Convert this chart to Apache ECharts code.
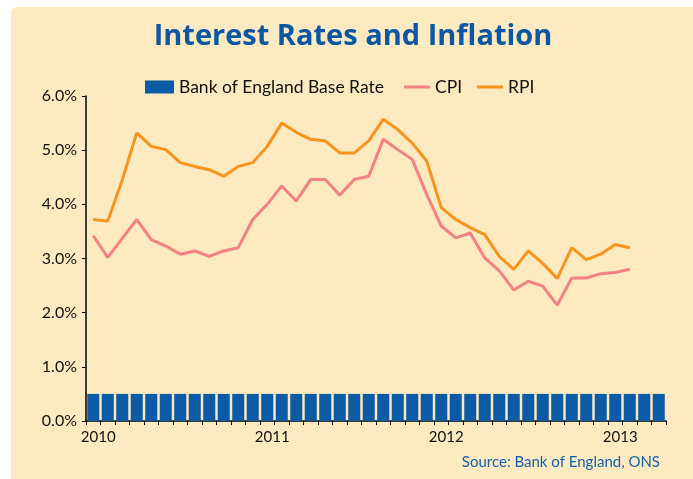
<!DOCTYPE html>
<html>
<head>
<meta charset="utf-8">
<script src="https://cdn.jsdelivr.net/npm/echarts@6/dist/echarts.min.js"></script>
<style>
html,body{margin:0;padding:0;background:#fff;}
#chart{width:693px;height:479px;}
</style>
</head>
<body>
<div id="chart"></div>
<script>
// Monthly categories Jan 2010 .. Apr 2013
var months = [
  '2010-01','2010-02','2010-03','2010-04','2010-05','2010-06','2010-07','2010-08','2010-09','2010-10','2010-11','2010-12',
  '2011-01','2011-02','2011-03','2011-04','2011-05','2011-06','2011-07','2011-08','2011-09','2011-10','2011-11','2011-12',
  '2012-01','2012-02','2012-03','2012-04','2012-05','2012-06','2012-07','2012-08','2012-09','2012-10','2012-11','2012-12',
  '2013-01','2013-02','2013-03','2013-04'
];
var baseRate = [
  0.5,0.5,0.5,0.5,0.5,0.5,0.5,0.5,0.5,0.5,0.5,0.5,
  0.5,0.5,0.5,0.5,0.5,0.5,0.5,0.5,0.5,0.5,0.5,0.5,
  0.5,0.5,0.5,0.5,0.5,0.5,0.5,0.5,0.5,0.5,0.5,0.5,
  0.5,0.5,0.5,0.5
];
var cpi = [
  3.42,3.02,3.37,3.72,3.35,3.23,3.08,3.14,3.04,3.14,3.20,3.72,
  4.00,4.34,4.06,4.46,4.46,4.17,4.46,4.52,5.20,5.01,4.83,4.18,
  3.60,3.38,3.47,3.01,2.77,2.42,2.58,2.49,2.14,2.64,2.64,2.72,
  2.74,2.80
];
var rpi = [
  3.72,3.69,4.45,5.32,5.07,5.01,4.77,4.70,4.64,4.52,4.70,4.77,
  5.07,5.50,5.33,5.20,5.17,4.95,4.95,5.17,5.57,5.38,5.13,4.80,
  3.94,3.72,3.57,3.44,3.04,2.80,3.14,2.91,2.63,3.20,2.98,3.08,
  3.26,3.20
];
var yTicks = [0,1,2,3,4,5,6];
var titleText = 'Interest Rates and Inflation';
var sourceText = 'Source: Bank of England, ONS';

var FONT = 'Lato';
var chart = echarts.init(document.getElementById('chart'), null, {renderer:'canvas'});
chart.setOption({
  backgroundColor: '#ffffff',
  animation: false,
  graphic: [
    {type:'rect', z:-10, silent:true, shape:{x:11,y:7,width:700,height:480,r:[6,0,0,0]}, style:{fill:'#FEEAC0'}},
    {type:'text', right:33, top:455, style:{text:sourceText, fill:'#1560AA', font:'15px Lato'}}
  ],
  title: {
    text: titleText,
    left: 348, textAlign: 'center', top: 17,
    textStyle: {fontFamily: 'Open Sans', fontWeight:'bold', fontSize: 29, color:'#0B57A4'}
  },
  legend: [
    {
      data: ['Bank of England Base Rate'],
      left: 140, top: 73,
      itemWidth: 29, itemHeight: 13, itemGap: 15,
      icon: 'rect',
      textStyle: {fontFamily: FONT, fontSize: 17.5, color:'#111'}
    },
    {
      data: ['CPI','RPI'],
      left: 399, top: 73,
      itemWidth: 26, itemHeight: 3, itemGap: 15,
      icon: 'rect',
      textStyle: {fontFamily: FONT, fontSize: 17.5, color:'#111'}
    }
  ],
  grid: {left: 86, right: 27, top: 96, bottom: 58, containLabel:false},
  xAxis: {
    type: 'category',
    data: months,
    boundaryGap: true,
    axisLine: {lineStyle:{color:'#000', width:1.5}},
    axisTick: {show:true, interval:0, length:4, lineStyle:{color:'#000', width:1}},
    axisLabel: {
      interval: function(i){ return i % 12 === 0; },
      formatter: function(v){ return v.slice(0,4); },
      fontFamily: FONT, fontSize: 15, color:'#111', margin: 9,
      padding: [0,0,0,10]
    },
    splitLine: {show:false}
  },
  yAxis: {
    type: 'value',
    min: yTicks[0], max: yTicks[yTicks.length-1], interval: 1,
    axisLine: {show:true, lineStyle:{color:'#000', width:1.5}},
    axisTick: {show:true, length:4, lineStyle:{color:'#000', width:1}},
    axisLabel: {
      formatter: function(v){ return v.toFixed(1) + '%'; },
      fontFamily: FONT, fontSize: 16, color:'#111', margin: 9
    },
    splitLine: {show:false}
  },
  series: [
    {
      name: 'Bank of England Base Rate', type: 'bar', data: baseRate,
      barCategoryGap: '17%',
      itemStyle: {color:'#0C5BA6'}
    },
    {
      name: 'CPI', type: 'line', data: cpi, symbol: 'none',
      lineStyle: {color:'#F48185', width:3}, itemStyle:{color:'#F48185'}
    },
    {
      name: 'RPI', type: 'line', data: rpi, symbol: 'none',
      lineStyle: {color:'#F7941D', width:3}, itemStyle:{color:'#F7941D'}
    }
  ]
});
</script>
</body>
</html>
